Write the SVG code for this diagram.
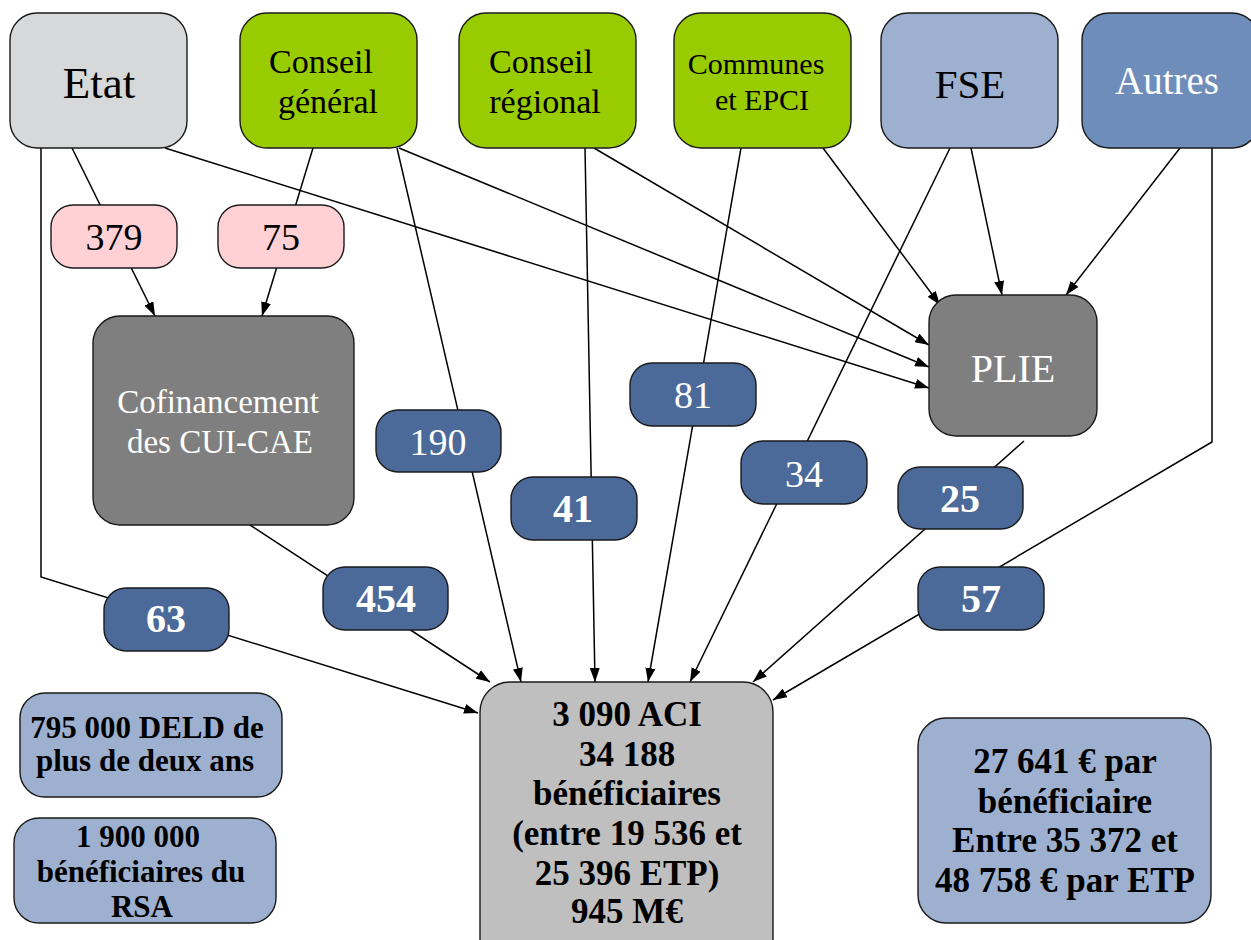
<svg xmlns="http://www.w3.org/2000/svg" width="1251" height="940" viewBox="0 0 1251 940">
<style>
text{font-family:"Liberation Serif","DejaVu Serif",serif;text-anchor:middle}
.box{stroke:#1a1a1a;stroke-width:1.4}
.grey{fill:#d7d8da}
.green{fill:#99cc00}
.fse{fill:#9eb0cf}
.autres{fill:#6f8dba}
.dark{fill:#7f7f7f}
.pink{fill:#ffd1d4}
.blue{fill:#4b6a9a}
.aci{fill:#bfbfbf}
.info{fill:#9eb0cf}
.w{fill:#ffffff}
.k{fill:#000000}
.b{font-weight:bold}
.conn line,.conn polyline{stroke:#000;stroke-width:1.5;fill:none;marker-end:url(#ah)}
</style>
<defs>
<marker id="ah" markerUnits="userSpaceOnUse" markerWidth="14" markerHeight="10" refX="14" refY="5" orient="auto">
<path d="M0,0 L14,5 L0,10 z" fill="#000"/>
</marker>
</defs>
<rect width="1251" height="940" fill="#ffffff"/>
<g id="connectors" class="conn">
<polyline points="41,148 41,577 478,713"/>
<line x1="72" y1="148" x2="155" y2="316"/>
<line x1="165" y1="148" x2="929" y2="388"/>
<line x1="313" y1="148" x2="262" y2="316"/>
<line x1="397" y1="148" x2="521" y2="682"/>
<line x1="399" y1="148" x2="929" y2="367"/>
<line x1="585" y1="148" x2="595" y2="682"/>
<line x1="594" y1="148" x2="929" y2="345"/>
<line x1="741" y1="148" x2="648" y2="682"/>
<line x1="823" y1="148" x2="940" y2="305"/>
<line x1="971" y1="148" x2="1002" y2="295"/>
<line x1="950" y1="148" x2="690" y2="682"/>
<line x1="1180" y1="148" x2="1066" y2="295"/>
<polyline points="1212,148 1212,442 773,700"/>
<line x1="1024" y1="441" x2="753" y2="682"/>
<line x1="250" y1="525" x2="490" y2="682"/>
</g>
<g id="etat"><rect class="box grey" x="10" y="13" width="177" height="135" rx="27"/><text class="k" x="99" y="98" font-size="45">Etat</text></g>
<g id="conseil-general"><rect class="box green" x="240" y="13" width="177" height="135" rx="27"/><text class="k" x="321" y="73" font-size="34">Conseil</text><text class="k" x="328" y="113" font-size="34">général</text></g>
<g id="conseil-regional"><rect class="box green" x="459" y="13" width="177" height="135" rx="27"/><text class="k" x="541" y="73" font-size="34">Conseil</text><text class="k" x="545" y="113" font-size="34">régional</text></g>
<g id="communes"><rect class="box green" x="674" y="13" width="177" height="135" rx="27"/><text class="k" x="756" y="74" font-size="30">Communes</text><text class="k" x="762" y="110" font-size="30">et EPCI</text></g>
<g id="fse"><rect class="box fse" x="881" y="13" width="177" height="135" rx="27"/><text class="k" x="970" y="98" font-size="41">FSE</text></g>
<g id="autres"><rect class="box autres" x="1082" y="13" width="177" height="135" rx="27"/><text class="w" x="1167" y="94" font-size="39">Autres</text></g>
<g id="f379"><rect class="box pink" x="51" y="205" width="126" height="63" rx="22"/><text class="k" x="114" y="250" font-size="38">379</text></g>
<g id="f75"><rect class="box pink" x="218" y="205" width="126" height="63" rx="22"/><text class="k" x="281" y="250" font-size="38">75</text></g>
<g id="cofinancement"><rect class="box dark" x="93" y="316" width="261" height="209" rx="27"/><text class="w" x="218" y="413" font-size="33">Cofinancement</text><text class="w" x="220" y="453" font-size="33">des CUI-CAE</text></g>
<g id="plie"><rect class="box dark" x="929" y="295" width="168" height="141" rx="27"/><text class="w" x="1013" y="382" font-size="40">PLIE</text></g>
<g id="f190"><rect class="box blue" x="376" y="410" width="125" height="62" rx="22"/><text class="w" x="438" y="455" font-size="38">190</text></g>
<g id="f41"><rect class="box blue" x="511" y="477" width="126" height="63" rx="22"/><text class="w b" x="573" y="522" font-size="40">41</text></g>
<g id="f81"><rect class="box blue" x="630" y="363" width="126" height="63" rx="22"/><text class="w" x="693" y="408" font-size="38">81</text></g>
<g id="f34"><rect class="box blue" x="741" y="441" width="126" height="63" rx="22"/><text class="w" x="804" y="487" font-size="38">34</text></g>
<g id="f25"><rect class="box blue" x="898" y="467" width="125" height="62" rx="22"/><text class="w b" x="960" y="512" font-size="40">25</text></g>
<g id="f57"><rect class="box blue" x="918" y="567" width="126" height="63" rx="22"/><text class="w b" x="981" y="612" font-size="40">57</text></g>
<g id="f454"><rect class="box blue" x="323" y="567" width="125" height="63" rx="22"/><text class="w b" x="386" y="612" font-size="40">454</text></g>
<g id="f63"><rect class="box blue" x="104" y="588" width="125" height="63" rx="22"/><text class="w b" x="166" y="632" font-size="40">63</text></g>
<g id="aci"><rect class="box aci" x="480" y="682" width="293" height="300" rx="30"/>
<text class="k b" x="627" y="726" font-size="35">3 090 ACI</text>
<text class="k b" x="627" y="766" font-size="35">34 188</text>
<text class="k b" x="627" y="805" font-size="35">bénéficiaires</text>
<text class="k b" x="627" y="845" font-size="35">(entre 19 536 et</text>
<text class="k b" x="627" y="885" font-size="35">25 396 ETP)</text>
<text class="k b" x="627" y="923" font-size="35">945 M€</text></g>
<g id="deld"><rect class="box info" x="20" y="693" width="262" height="104" rx="25"/>
<text class="k b" x="147" y="738" font-size="31">795 000 DELD de</text>
<text class="k b" x="145" y="771" font-size="31">plus de deux ans</text></g>
<g id="rsa"><rect class="box info" x="14" y="818" width="262" height="105" rx="25"/>
<text class="k b" x="138" y="847" font-size="31">1 900 000</text>
<text class="k b" x="141" y="882" font-size="31">bénéficiaires du</text>
<text class="k b" x="142" y="917" font-size="31">RSA</text></g>
<g id="cout"><rect class="box info" x="918" y="718" width="293" height="205" rx="28"/>
<text class="k b" x="1065" y="773" font-size="35">27 641 € par</text>
<text class="k b" x="1065" y="813" font-size="35">bénéficiaire</text>
<text class="k b" x="1065" y="852" font-size="35">Entre 35 372 et</text>
<text class="k b" x="1065" y="892" font-size="35">48 758 € par ETP</text></g>
</svg>
